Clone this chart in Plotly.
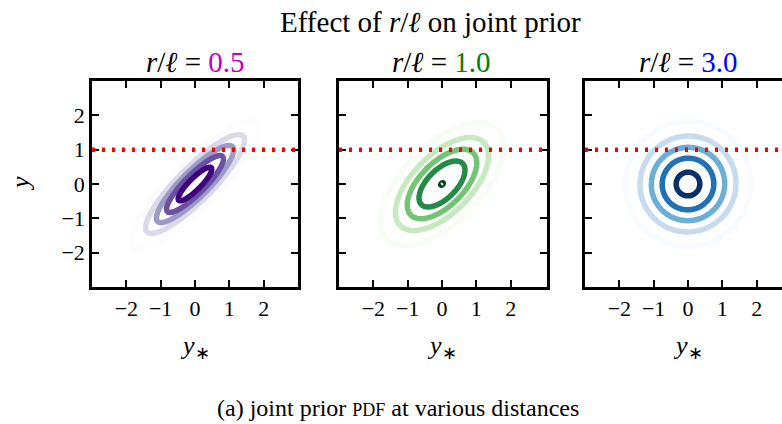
import numpy as np
import plotly.graph_objects as go

# ---- data ----
distance_ratios = [0.5, 1.0, 3.0]            # r / ell for each panel
ratio_labels = ["0.5", "1.0", "3.0"]
ratio_colors = ["#bf00bf", "#008000", "#0000ff"]
contour_levels = [
    [0.06, 0.12, 0.18, 0.24, 0.30],
    [0.04, 0.08, 0.12, 0.16, 0.20],
    [0.03, 0.06, 0.09, 0.12, 0.15],
]
colorscales = ["Purples", "Greens", "Blues"]
observed_y = 1.0
tick_values = [-2, -1, 0, 1, 2]
axis_range = [-3, 3]

W, H = 782, 424
FONT = "Liberation Serif"

# grid for the joint Gaussian prior density of (y*, y)
grid = np.linspace(axis_range[0], axis_range[1], 241)
GX, GY = np.meshgrid(grid, grid)


def joint_pdf(ratio):
    rho = np.exp(-0.5 * ratio ** 2)
    det = 1.0 - rho ** 2
    q = (GX ** 2 - 2 * rho * GX * GY + GY ** 2) / det
    return np.round(np.exp(-0.5 * q) / (2 * np.pi * np.sqrt(det)), 7)


fig = go.Figure()

# panel pixel boxes (left, right) ; shared top/bottom
panel_x = [(92, 298), (339, 547), (585, 782)]
top_px, bot_px = 81, 287
ydom = [(H - bot_px) / H, (H - top_px) / H]
px_per_unit = (298 - 92) / 6.0

for i, ratio in enumerate(distance_ratios):
    lv = contour_levels[i]
    ax = "" if i == 0 else str(i + 1)
    fig.add_trace(go.Contour(
        x=grid, y=grid, z=joint_pdf(ratio),
        autocontour=False,
        contours=dict(start=lv[0], end=lv[-1] + 1e-7, size=lv[1] - lv[0],
                      coloring="lines"),
        colorscale=colorscales[i], showscale=False,
        line=dict(width=5.5, smoothing=0.6),
        hoverinfo="skip",
        xaxis="x" + ax, yaxis="y" + ax,
    ))

    x0, x1 = panel_x[i]
    xr_right = axis_range[0] + (x1 - x0) / px_per_unit
    common = dict(
        showgrid=False, zeroline=False, showline=True, linecolor="black",
        linewidth=2.5, ticks="inside", ticklen=7, tickwidth=1.5,
        tickcolor="black", tickvals=tick_values,
        tickfont=dict(family=FONT, size=22, color="black"),
    )
    fig.layout["xaxis" + ax] = dict(
        common, domain=[x0 / W, x1 / W], range=[axis_range[0], xr_right],
        anchor="y" + ax, mirror="ticks",
    )
    fig.layout["yaxis" + ax] = dict(
        common, domain=ydom, range=axis_range, anchor="x" + ax,
        mirror="ticks" if i < 2 else False,
        showticklabels=(i == 0),
    )

    # observed value line
    fig.add_shape(type="line", xref="x" + ax + " domain", yref="y" + ax,
                  x0=0, x1=1, y0=observed_y, y1=observed_y, layer="above",
                  line=dict(color="#ff0000", width=4.5, dash="3px,7px"))

    # subplot title
    cx = (x0 + (x0 + 206)) / 2 / W
    fig.add_annotation(
        x=cx, y=1 - 62 / H, xref="paper", yref="paper",
        xanchor="center", yanchor="middle", showarrow=False,
        text=("<i>r</i>/<i>ℓ</i> = <span style='color:%s'>%s</span>"
              % (ratio_colors[i], ratio_labels[i])),
        font=dict(family=FONT, size=29, color="black"),
    )
    # x-axis title
    fig.add_annotation(
        x=cx, y=1 - 347 / H, xref="paper", yref="paper",
        xanchor="center", yanchor="middle", showarrow=False,
        text="<i>y</i><sub>∗</sub>",
        font=dict(family=FONT, size=26, color="black"),
    )

# y-axis title
fig.add_annotation(
    x=20 / W, y=1 - 184 / H, xref="paper", yref="paper",
    xanchor="center", yanchor="middle", showarrow=False, textangle=-90,
    text="<i>y</i>", font=dict(family=FONT, size=26, color="black"),
)
# main title
fig.add_annotation(
    x=430 / W, y=1 - 22 / H, xref="paper", yref="paper",
    xanchor="center", yanchor="middle", showarrow=False,
    text="Effect of <i>r</i>/<i>ℓ</i> on joint prior",
    font=dict(family=FONT, size=29, color="black"),
)
# caption
fig.add_annotation(
    x=398 / W, y=1 - 408 / H, xref="paper", yref="paper",
    xanchor="center", yanchor="middle", showarrow=False,
    text="(a) joint prior <span style='font-size:18px'>PDF</span> at various distances",
    font=dict(family=FONT, size=24, color="black"),
)

fig.update_layout(
    width=W, height=H, margin=dict(l=0, r=0, t=0, b=0),
    paper_bgcolor="white", plot_bgcolor="white", showlegend=False,
)

fig.write_html("out.html")
